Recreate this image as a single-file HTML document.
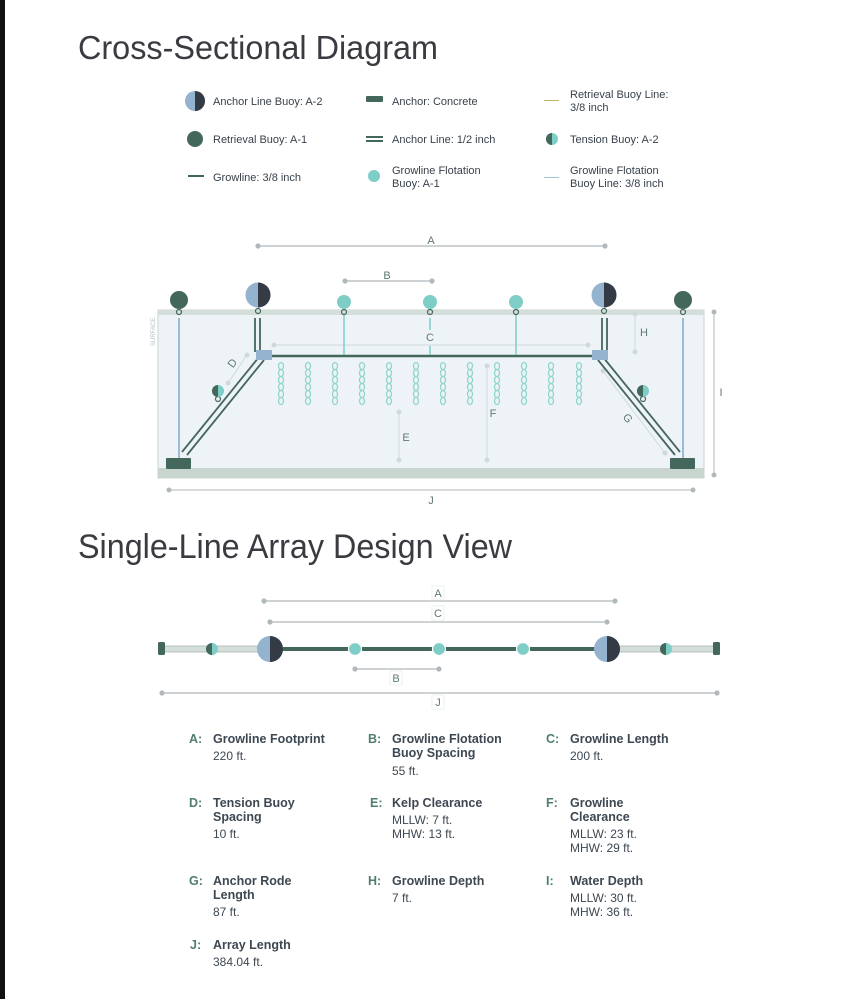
<!DOCTYPE html>
<html><head><meta charset="utf-8"><style>
html,body{margin:0;padding:0;background:#fff}
svg{display:block}
text{font-family:"Liberation Sans",sans-serif}
</style></head><body>
<svg width="864" height="999" viewBox="0 0 864 999" xmlns="http://www.w3.org/2000/svg">
<rect x="0" y="0" width="864" height="999" fill="#fff"/>
<rect x="0" y="0" width="5" height="999" fill="#111"/>

<text x="78" y="59" font-size="33" fill="#3a3a40" textLength="360" lengthAdjust="spacingAndGlyphs" font-weight="300">Cross-Sectional Diagram</text>

<!-- legend -->
<g font-size="11" fill="#38414b">
  <circle cx="195" cy="101" r="10" fill="#93b3cf"/><path d="M195 91 A10 10 0 0 1 195 111 Z" fill="#343b45"/>
  <text x="213" y="105">Anchor Line Buoy: A-2</text>
  <circle cx="195" cy="139" r="8" fill="#44675c"/>
  <text x="213" y="143">Retrieval Buoy: A-1</text>
  <rect x="188" y="175" width="16" height="2" fill="#44675c"/>
  <text x="213" y="181">Growline: 3/8 inch</text>

  <rect x="366" y="96" width="17" height="6" rx="1" fill="#44675c"/>
  <text x="392" y="105">Anchor: Concrete</text>
  <rect x="366" y="136" width="17" height="2" fill="#44675c"/><rect x="366" y="140" width="17" height="2" fill="#44675c"/>
  <text x="392" y="143">Anchor Line: 1/2 inch</text>
  <circle cx="374" cy="176" r="6" fill="#7ecdc7"/>
  <text x="392" y="174">Growline Flotation</text><text x="392" y="187">Buoy: A-1</text>

  <rect x="544" y="100" width="15" height="1" fill="#b8b860"/>
  <text x="570" y="98">Retrieval Buoy Line:</text><text x="570" y="111">3/8 inch</text>
  <circle cx="552" cy="139" r="6" fill="#7ecdc7"/><path d="M552 133 A6 6 0 0 0 552 145 Z" fill="#44675c"/>
  <text x="570" y="143">Tension Buoy: A-2</text>
  <rect x="544" y="177" width="15" height="1" fill="#9fc7d6"/>
  <text x="570" y="174">Growline Flotation</text><text x="570" y="187">Buoy Line: 3/8 inch</text>
</g>

<!-- cross section -->
<rect x="158" y="310" width="546" height="168" fill="#eef3f7" stroke="#c9d3d0"/>
<rect x="158" y="310" width="546" height="5" fill="#d4dfdb"/>
<rect x="158" y="468" width="546" height="10" fill="#c9d6d0"/>
<text transform="translate(155,346) rotate(-90)" font-size="6" fill="#b5bcc2">SURFACE</text>

<g stroke="#b0b8bc" stroke-width="1.2" fill="#b0b8bc">
  <line x1="258" y1="246" x2="605" y2="246"/><circle cx="258" cy="246" r="2"/><circle cx="605" cy="246" r="2"/>
  <line x1="345" y1="281" x2="432" y2="281"/><circle cx="345" cy="281" r="2"/><circle cx="432" cy="281" r="2"/>
</g>
<g stroke="#cfd9dc" stroke-width="1" fill="#cfd9dc">
  <line x1="274" y1="345" x2="588" y2="345"/><circle cx="274" cy="345" r="2"/><circle cx="588" cy="345" r="2"/>
  <line x1="247" y1="355" x2="228" y2="383"/><circle cx="247" cy="355" r="2"/><circle cx="228" cy="383" r="2"/>
  <line x1="399" y1="412" x2="399" y2="460"/><circle cx="399" cy="412" r="2"/><circle cx="399" cy="460" r="2"/>
  <line x1="487" y1="366" x2="487" y2="460"/><circle cx="487" cy="366" r="2"/><circle cx="487" cy="460" r="2"/>
  <line x1="603" y1="371" x2="665" y2="453"/><circle cx="603" cy="371" r="2"/><circle cx="665" cy="453" r="2"/>
  <line x1="635" y1="314" x2="635" y2="352"/><circle cx="635" cy="314" r="2"/><circle cx="635" cy="352" r="2"/>
</g>
<g stroke="#b0b8bc" stroke-width="1" fill="#b0b8bc">
  <line x1="714" y1="312" x2="714" y2="475"/><circle cx="714" cy="312" r="2"/><circle cx="714" cy="475" r="2"/>
  <line x1="169" y1="490" x2="693" y2="490"/><circle cx="169" cy="490" r="2"/><circle cx="693" cy="490" r="2"/>
</g>
<g font-size="11" fill="#5f7a72" text-anchor="middle">
  <text x="431" y="244">A</text><text x="387" y="279">B</text>
  <text x="430" y="341">C</text>
  <text x="232" y="367" transform="rotate(-55 232 363)">D</text>
  <text x="406" y="441">E</text><text x="493" y="417">F</text>
  <text x="628" y="422" transform="rotate(53 628 418)">G</text>
  <text x="644" y="336">H</text><text x="721" y="396">I</text><text x="431" y="504">J</text>
</g>

<!-- lines -->
<line x1="179" y1="318" x2="179" y2="458" stroke="#9bbcd6" stroke-width="2"/>
<line x1="683" y1="318" x2="683" y2="458" stroke="#9bbcd6" stroke-width="2"/>
<g stroke="#44675c" stroke-width="1.8">
  <line x1="255" y1="318" x2="255" y2="352"/><line x1="260" y1="318" x2="260" y2="352"/>
  <line x1="602" y1="318" x2="602" y2="352"/><line x1="607" y1="318" x2="607" y2="352"/>
  <line x1="259" y1="357" x2="182" y2="452"/><line x1="264" y1="360" x2="187" y2="455"/>
  <line x1="603" y1="357" x2="680" y2="452"/><line x1="598" y1="360" x2="675" y2="455"/>
</g>
<line x1="272" y1="356" x2="594" y2="356" stroke="#44675c" stroke-width="2.5"/>
<g stroke="#7ecdc7" stroke-width="1.5">
  <line x1="344" y1="314" x2="344" y2="355"/><line x1="430" y1="318" x2="430" y2="330"/><line x1="430" y1="346" x2="430" y2="355"/><line x1="516" y1="314" x2="516" y2="355"/>
</g>
<rect x="256" y="350" width="16" height="10" fill="#93b3cf"/>
<rect x="592" y="350" width="16" height="10" fill="#93b3cf"/>
<rect x="166" y="458" width="25" height="11" rx="1" fill="#44675c"/>
<rect x="670" y="458" width="25" height="11" rx="1" fill="#44675c"/>

<!-- kelp -->
<g fill="none" stroke="#8fd6cc" stroke-width="1.3">
  <g id="k"><ellipse cx="281" cy="366" rx="2.5" ry="3.5"/><ellipse cx="281" cy="373" rx="2.5" ry="3.5"/><ellipse cx="281" cy="380" rx="2.5" ry="3.5"/><ellipse cx="281" cy="387" rx="2.5" ry="3.5"/><ellipse cx="281" cy="394" rx="2.5" ry="3.5"/><ellipse cx="281" cy="401" rx="2.5" ry="3.5"/></g>
  <use href="#k" x="27"/><use href="#k" x="54"/><use href="#k" x="81"/><use href="#k" x="108"/><use href="#k" x="135"/><use href="#k" x="162"/><use href="#k" x="189"/><use href="#k" x="216"/><use href="#k" x="243"/><use href="#k" x="270"/><use href="#k" x="298"/>
</g>

<!-- buoys -->
<g fill="none" stroke="#44675c" stroke-width="1.2">
  <circle cx="179" cy="312" r="2.5"/><circle cx="258" cy="311" r="2.5"/><circle cx="344" cy="312" r="2.5"/><circle cx="430" cy="312" r="2.5"/><circle cx="516" cy="312" r="2.5"/><circle cx="604" cy="311" r="2.5"/><circle cx="683" cy="312" r="2.5"/>
  <circle cx="218" cy="399" r="2.5"/><circle cx="643" cy="399" r="2.5"/>
</g>
<circle cx="179" cy="300" r="9" fill="#44675c"/>
<circle cx="683" cy="300" r="9" fill="#44675c"/>
<circle cx="258" cy="295" r="12.5" fill="#93b3cf"/><path d="M258 282.5 A12.5 12.5 0 0 1 258 307.5 Z" fill="#343b45"/>
<circle cx="604" cy="295" r="12.5" fill="#93b3cf"/><path d="M604 282.5 A12.5 12.5 0 0 1 604 307.5 Z" fill="#343b45"/>
<circle cx="344" cy="302" r="7" fill="#7ecdc7"/><circle cx="430" cy="302" r="7" fill="#7ecdc7"/><circle cx="516" cy="302" r="7" fill="#7ecdc7"/>
<circle cx="218" cy="391" r="6" fill="#7ecdc7"/><path d="M218 385 A6 6 0 0 0 218 397 Z" fill="#44675c"/>
<circle cx="643" cy="391" r="6" fill="#7ecdc7"/><path d="M643 385 A6 6 0 0 0 643 397 Z" fill="#44675c"/>

<!-- single-line -->
<text x="78" y="558" font-size="34" fill="#3a3a40" textLength="434" lengthAdjust="spacingAndGlyphs">Single-Line Array Design View</text>
<g stroke="#b0b8bc" stroke-width="1.2" fill="#b0b8bc">
  <line x1="264" y1="601" x2="615" y2="601"/><circle cx="264" cy="601" r="2"/><circle cx="615" cy="601" r="2"/>
  <line x1="270" y1="622" x2="607" y2="622"/><circle cx="270" cy="622" r="2"/><circle cx="607" cy="622" r="2"/>
  <line x1="355" y1="669" x2="439" y2="669"/><circle cx="355" cy="669" r="2"/><circle cx="439" cy="669" r="2"/>
  <line x1="162" y1="693" x2="717" y2="693"/><circle cx="162" cy="693" r="2"/><circle cx="717" cy="693" r="2"/>
</g>
<g font-size="11" fill="#5f7a72" text-anchor="middle">
  <rect x="432" y="586" width="12" height="13" fill="#fff" stroke="#e3e6e8" stroke-width="0.6"/><text x="438" y="597">A</text>
  <rect x="432" y="606" width="12" height="14" fill="#fff" stroke="#e3e6e8" stroke-width="0.6"/><text x="438" y="617">C</text>
  <rect x="390" y="671" width="12" height="14" fill="#fff" stroke="#e3e6e8" stroke-width="0.6"/><text x="396" y="682">B</text>
  <rect x="432" y="695" width="12" height="14" fill="#fff" stroke="#e3e6e8" stroke-width="0.6"/><text x="438" y="706">J</text>
</g>
<rect x="163" y="646" width="107" height="6" fill="#d4dfdb" stroke="#a9b6b2" stroke-width="0.8"/>
<rect x="607" y="646" width="108" height="6" fill="#d4dfdb" stroke="#a9b6b2" stroke-width="0.8"/>
<line x1="270" y1="649" x2="607" y2="649" stroke="#44675c" stroke-width="4"/>
<rect x="158" y="642" width="7" height="13" rx="1.5" fill="#44675c"/>
<rect x="713" y="642" width="7" height="13" rx="1.5" fill="#44675c"/>
<circle cx="212" cy="649" r="6" fill="#7ecdc7"/><path d="M212 643 A6 6 0 0 0 212 655 Z" fill="#44675c"/>
<circle cx="666" cy="649" r="6" fill="#7ecdc7"/><path d="M666 643 A6 6 0 0 0 666 655 Z" fill="#44675c"/>
<circle cx="270" cy="649" r="13" fill="#93b3cf"/><path d="M270 636 A13 13 0 0 1 270 662 Z" fill="#343b45"/>
<circle cx="607" cy="649" r="13" fill="#93b3cf"/><path d="M607 636 A13 13 0 0 1 607 662 Z" fill="#343b45"/>
<g fill="#7ecdc7" stroke="#fff" stroke-width="1.2">
  <circle cx="355" cy="649" r="6.5"/><circle cx="439" cy="649" r="6.5"/><circle cx="523" cy="649" r="6.5"/>
</g>

<!-- definitions -->
<g font-size="12.5" font-weight="bold" fill="#4f7f6c">
  <text x="189" y="743">A:</text><text x="368" y="743">B:</text><text x="546" y="743">C:</text>
  <text x="189" y="807">D:</text><text x="370" y="807">E:</text><text x="546" y="807">F:</text>
  <text x="189" y="885">G:</text><text x="368" y="885">H:</text><text x="546" y="885">I:</text>
  <text x="190" y="949">J:</text>
</g>
<g font-size="12.5" font-weight="bold" fill="#3d4852">
  <text x="213" y="743">Growline Footprint</text>
  <text x="392" y="743">Growline Flotation</text><text x="392" y="757">Buoy Spacing</text>
  <text x="570" y="743">Growline Length</text>
  <text x="213" y="807">Tension Buoy</text><text x="213" y="821">Spacing</text>
  <text x="392" y="807">Kelp Clearance</text>
  <text x="570" y="807">Growline</text><text x="570" y="821">Clearance</text>
  <text x="213" y="885">Anchor Rode</text><text x="213" y="899">Length</text>
  <text x="392" y="885">Growline Depth</text>
  <text x="570" y="885">Water Depth</text>
  <text x="213" y="949">Array Length</text>
</g>
<g font-size="12" fill="#3d4852">
  <text x="213" y="760">220 ft.</text>
  <text x="392" y="775">55 ft.</text>
  <text x="570" y="760">200 ft.</text>
  <text x="213" y="838">10 ft.</text>
  <text x="392" y="824">MLLW: 7 ft.</text><text x="392" y="838">MHW: 13 ft.</text>
  <text x="570" y="838">MLLW: 23 ft.</text><text x="570" y="852">MHW: 29 ft.</text>
  <text x="213" y="916">87 ft.</text>
  <text x="392" y="902">7 ft.</text>
  <text x="570" y="902">MLLW: 30 ft.</text><text x="570" y="916">MHW: 36 ft.</text>
  <text x="213" y="966">384.04 ft.</text>
</g>
</svg>
</body></html>
